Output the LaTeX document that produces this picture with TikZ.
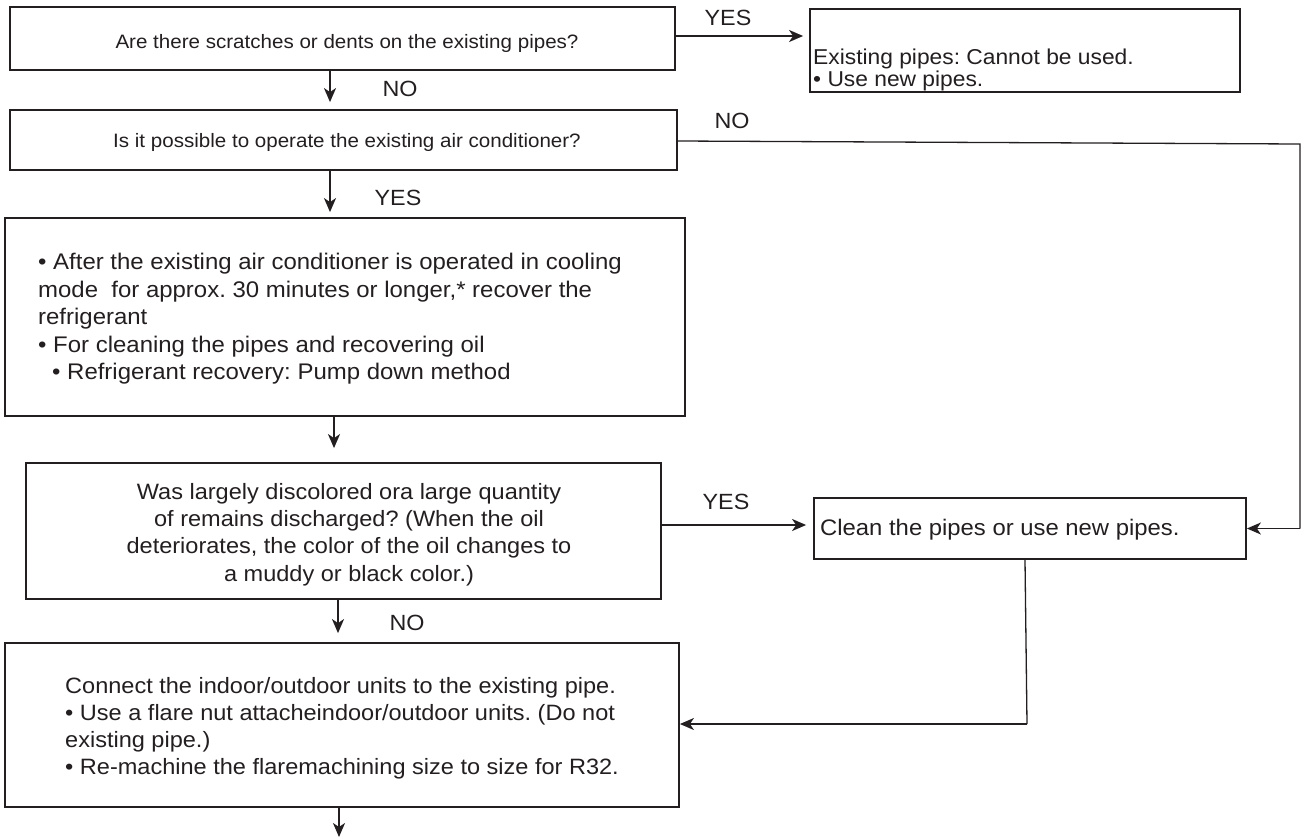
\documentclass[tikz,border=0pt]{standalone}
\usepackage{fontspec}
\setmainfont{Liberation Sans}[FakeStretch=1.06]
\usetikzlibrary{arrows.meta}
\definecolor{ink}{HTML}{231F20}
\frenchspacing
\begin{document}
\begin{tikzpicture}[x=1pt,y=-1pt,
  box/.style={draw=ink, line width=1.8pt, inner sep=0pt, rectangle},
  txt/.style={inner sep=0pt, text=ink, align=left},
  lbl/.style={font=\fontsize{22}{26}\selectfont, inner sep=0pt, text=ink},
  tip/.style={-{Stealth[length=14pt,width=12pt,inset=4pt]}},
  arr/.style={draw=ink, line width=1.8pt, tip},
  thinline/.style={draw=ink, line width=1.3pt}]
\useasboundingbox (0,0) rectangle (1303,838);

% boxes (frames)
\node[box, minimum width=665pt, minimum height=63pt] (b1) at (342.5,38.5) {};
\node[box, minimum width=430pt, minimum height=83pt] (b2) at (1025,50.5) {};
\node[box, minimum width=667pt, minimum height=60pt] (b2b) at (343.5,140) {};
\node[box, minimum width=680pt, minimum height=198pt] (b3) at (345,317) {};
\node[box, minimum width=635pt, minimum height=136pt] (b4) at (343.5,531) {};
\node[box, minimum width=432pt, minimum height=61pt] (cl) at (1030,528.5) {};
\node[box, minimum width=674pt, minimum height=164pt] (b5) at (342,725) {};

% texts
\node[txt, anchor=base, font=\fontsize{19.4}{24}\selectfont] (t1) at (347,48)
  {Are there scratches or dents on the existing pipes?};
\node[txt, anchor=base west, font=\fontsize{21.5}{18}\selectfont] (t2) at (813,86)
  {Existing pipes: Cannot be used.\\ \textbullet\ Use new pipes.};
\node[txt, anchor=base, font=\fontsize{19.4}{24}\selectfont] (t2b) at (347,147)
  {Is it possible to operate the existing air conditioner?};
\node[txt, anchor=north west, font=\fontsize{22.6}{27.5}\selectfont] (t3) at (38,253)
  {\textbullet\ After the existing air conditioner is operated in cooling\\
   mode\ \ for approx. 30 minutes or longer,* recover the\\
   refrigerant\\
   \textbullet\ For cleaning the pipes and recovering oil\\
   \hspace*{14pt}\textbullet\ Refrigerant recovery: Pump down method};
\node[txt, anchor=north, align=center, font=\fontsize{22.2}{27.3}\selectfont] (t4) at (349,483)
  {Was largely discolored ora large quantity\\
   of remains discharged? (When the oil\\
   deteriorates, the color of the oil changes to\\
   a muddy or black color.)};
\node[txt, anchor=base west, font=\fontsize{22.5}{27}\selectfont] (tc) at (820,535)
  {Clean the pipes or use new pipes.};
\node[txt, anchor=north west, font=\fontsize{22.2}{27}\selectfont] (t5) at (65,677)
  {Connect the indoor/outdoor units to the existing pipe.\\
   \textbullet\ Use a flare nut attacheindoor/outdoor units. (Do not\\
   existing pipe.)\\
   \textbullet\ Re-machine the flaremachining size to size for R32.};

% helper coordinates
\coordinate (c1) at (1300,144);
\coordinate (c2) at (1027,724);
\coordinate (c3) at (339,837);

% connectors
\draw[arr, shorten >=6pt] ([yshift=2.5pt]b1.east) -- ([yshift=2.5pt]b1.east -| b2.west);
\draw[arr, shorten >=7pt] ([xshift=-12.5pt]b1.south) -- ([xshift=-12.5pt]b1.south |- b2b.north);
\draw[thinline] ([yshift=-1pt]b2b.east) -- (c1) -- (c1 |- cl.east);
\draw[arr] (c1 |- cl.east) -- (cl.east);
\draw[arr, shorten >=5pt] ([xshift=-13.5pt]b2b.south) -- ([xshift=-13.5pt]b2b.south |- b3.north);
\draw[arr, shorten >=14pt] ([xshift=-11pt]b3.south) -- ([xshift=-11pt]b3.south |- b4.north);
\draw[arr, shorten >=7pt] ([yshift=6pt]b4.east) -- ([yshift=6pt]b4.east -| cl.west);
\draw[arr, shorten >=9pt] ([xshift=-5.5pt]b4.south) -- ([xshift=-5.5pt]b4.south |- b5.north);
\draw[thinline] ([xshift=-5pt]cl.south) -- (c2);
\draw[arr] (c2) -- (c2 -| b5.east);
\draw[arr] ([xshift=-3pt]b5.south) -- (c3);

% labels
\node[lbl] (y1) at (728,18) {YES};
\node[lbl] (n1) at (400,89) {NO};
\node[lbl] (n2) at (732,121) {NO};
\node[lbl] (y2) at (398,198) {YES};
\node[lbl] (y3) at (726,502) {YES};
\node[lbl] (n3) at (407,623) {NO};
\end{tikzpicture}
\end{document}
